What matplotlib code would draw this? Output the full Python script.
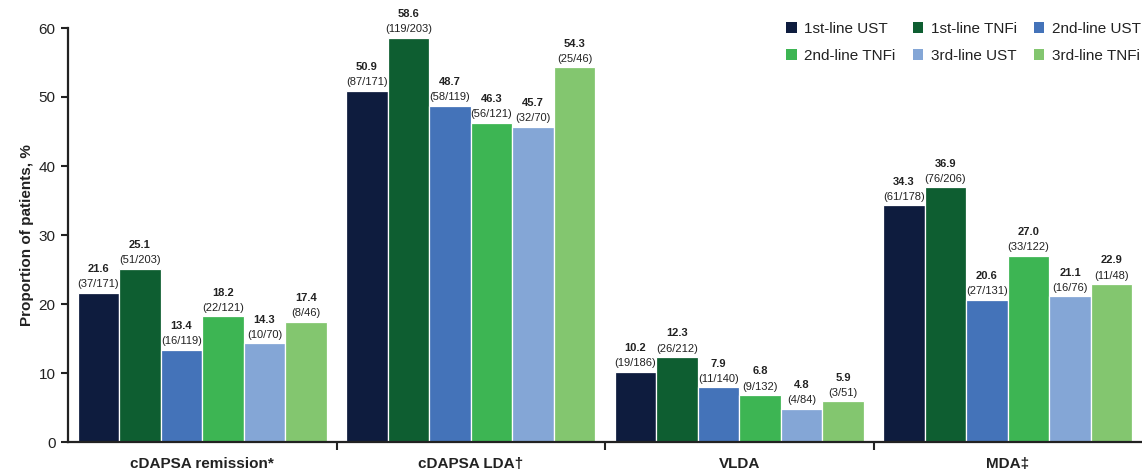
import matplotlib
matplotlib.use("Agg")
import matplotlib.pyplot as plt
from matplotlib.patches import Patch
import numpy as np

plt.rcParams['font.family'] = ['Liberation Sans', 'DejaVu Sans']

categories = ["cDAPSA remission*", "cDAPSA LDA\u2020", "VLDA", "MDA\u2021"]
series_names = ["1st-line UST", "1st-line TNFi", "2nd-line UST",
                "2nd-line TNFi", "3rd-line UST", "3rd-line TNFi"]
colors = ["#0e1c3e", "#0e5e31", "#4473b9", "#3db553", "#84a6d6", "#83c66f"]

values = [
    [21.6, 50.9, 10.2, 34.3],
    [25.1, 58.6, 12.3, 36.9],
    [13.4, 48.7, 7.9, 20.6],
    [18.2, 46.3, 6.8, 27.0],
    [14.3, 45.7, 4.8, 21.1],
    [17.4, 54.3, 5.9, 22.9],
]
counts = [
    ["37/171", "87/171", "19/186", "61/178"],
    ["51/203", "119/203", "26/212", "76/206"],
    ["16/119", "58/119", "11/140", "27/131"],
    ["22/121", "56/121", "9/132", "33/122"],
    ["10/70", "32/70", "4/84", "16/76"],
    ["8/46", "25/46", "3/51", "11/48"],
]
yticks = [0, 10, 20, 30, 40, 50, 60]

W, H = 1142, 473
fig = plt.figure(figsize=(W / 100, H / 100), dpi=100)
ax = fig.add_axes([68 / W, 1 - 442 / H, (1142 - 68) / W, (442 - 28) / H])

txt = "#222222"
x = np.arange(len(categories))
bw = 0.1546
n = len(series_names)
for i in range(n):
    xs = x + (i - (n - 1) / 2) * bw
    ax.bar(xs, values[i], width=bw, color=colors[i], edgecolor="white",
           linewidth=0.9, zorder=2)
    for xx, v, c in zip(xs, values[i], counts[i]):
        ax.annotate(f"({c})", (xx, v), xytext=(0, 2.5), textcoords="offset points",
                    ha="center", va="bottom", fontsize=8, color=txt,
                    annotation_clip=False)
        ax.annotate(f"{v:.1f}", (xx, v), xytext=(0, 13.5), textcoords="offset points",
                    ha="center", va="bottom", fontsize=8, fontweight="bold",
                    color=txt, annotation_clip=False)

ax.set_xlim(-0.5, 3.5)
ax.set_ylim(0, 60)
ax.set_yticks(yticks)
ax.set_yticklabels([str(t) for t in yticks], fontsize=11, color=txt)
ax.set_xticks(x)
ax.set_xticklabels(categories, fontsize=11, fontweight="bold", color=txt)
ax.tick_params(axis="x", which="major", length=0, pad=11)
ax.set_xticks([0.5, 1.5, 2.5], minor=True)
ax.tick_params(axis="x", which="minor", length=6, width=1.5, color=txt, direction="out")
ax.tick_params(axis="y", length=5, width=1.5, color=txt, pad=4)
ax.set_ylabel("Proportion of patients, %", fontsize=11, fontweight="bold",
              color=txt, labelpad=3)
for s in ["top", "right"]:
    ax.spines[s].set_visible(False)
for s in ["left", "bottom"]:
    ax.spines[s].set_linewidth(1.6)
    ax.spines[s].set_color(txt)

order = [0, 3, 1, 4, 2, 5]
handles = [Patch(facecolor=colors[k], edgecolor="none") for k in order]
labels = [series_names[k] for k in order]
fig.legend(handles, labels, ncol=3, loc="upper right",
           bbox_to_anchor=(1141 / W, 1 - 22 / H), frameon=False, fontsize=11,
           handlelength=0.7, handleheight=0.7, handletextpad=0.5,
           columnspacing=1.1, labelspacing=0.85, borderpad=0, borderaxespad=0,
           labelcolor=txt)

fig.savefig("out.png", dpi=100)
